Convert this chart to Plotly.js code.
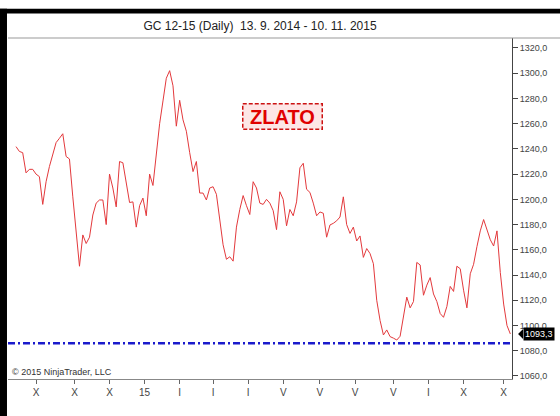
<!DOCTYPE html>
<html>
<head>
<meta charset="utf-8">
<script src="https://cdn.plot.ly/plotly-3.0.1.min.js"></script>
<style>
  html, body { margin: 0; padding: 0; background: #ffffff; }
  #chart { width: 560px; height: 416px; }
</style>
</head>
<body>
<div id="chart"></div>
<script>
// Daily closes of GC 12-15, sampled every 2 trading bars (13.9.2014 - 10.11.2015)
const closes = [
  1241.8, 1238, 1237, 1221, 1223.8, 1223.8, 1220, 1218, 1196, 1214,
  1226, 1236, 1245, 1248.4, 1252, 1234, 1232, 1202, 1174, 1147,
  1171.8, 1165, 1170, 1187.6, 1197, 1199.5, 1199.5, 1180, 1220, 1209,
  1194, 1230, 1229, 1213, 1197.5, 1198, 1178, 1195, 1201, 1187,
  1220, 1211, 1235, 1260, 1278, 1296, 1302, 1290, 1258, 1278.5,
  1263, 1254, 1237, 1222, 1230, 1205, 1205, 1199.5, 1209, 1210,
  1204, 1183, 1164, 1152.5, 1154.5, 1151, 1178, 1192, 1203, 1195,
  1188, 1214, 1209, 1197, 1196, 1200, 1197, 1191, 1176, 1206,
  1200, 1179, 1192, 1187, 1198, 1225, 1228.6, 1208, 1205.5, 1197,
  1187, 1190, 1189, 1170, 1179.7, 1181, 1183, 1186, 1202, 1180,
  1173, 1178, 1167, 1171, 1154, 1161, 1157, 1149, 1120, 1104,
  1092.5, 1096.5, 1091.2, 1090, 1088.5, 1091.5, 1106, 1122.5, 1114, 1119,
  1150, 1148, 1124, 1132, 1138, 1125, 1119, 1109.5, 1106.5, 1115,
  1131, 1127, 1147, 1145, 1128, 1114, 1141, 1148.5, 1162.5, 1175,
  1184, 1176, 1168, 1163, 1175, 1142, 1117, 1100, 1093.3
];
const barStep = 2;

// Month ticks (bar index of first trading day of month) and their labels
const monthTickBars = [12, 35, 56, 77, 98, 118, 139, 160, 182, 203, 226, 247, 268, 292];
const monthTickLabels = ['X', 'X', 'X', '15', 'I', 'I', 'I', 'V', 'V', 'V', 'V', 'I', 'X', 'X'];

// Price axis ticks
const priceTicks = [1060, 1080, 1100, 1120, 1140, 1160, 1180, 1200, 1220, 1240, 1260, 1280, 1300, 1320];
const priceTickLabels = priceTicks.map(v => v.toFixed(1).replace('.', ','));

const supportLevel = 1086;
const lastPrice = closes[closes.length - 1];
const lastPriceLabel = lastPrice.toFixed(1).replace('.', ',');

const titleText = 'GC 12-15 (Daily)  13. 9. 2014 - 10. 11. 2015';
const markText = 'ZLATO';
const copyrightText = '\u00A9 2015 NinjaTrader, LLC';

const xs = closes.map((_, i) => i * barStep);

const trace = {
  x: xs,
  y: closes,
  type: 'scatter',
  mode: 'lines',
  line: { color: '#e3393c', width: 1 },
  hoverinfo: 'skip'
};

const layout = {
  width: 560,
  height: 416,
  margin: { l: 8, r: 48, t: 38, b: 37, pad: 0 },
  paper_bgcolor: '#ffffff',
  plot_bgcolor: '#ffffff',
  showlegend: false,
  font: { family: 'Arial, "Liberation Sans", sans-serif', color: '#333333', size: 9 },
  title: {
    text: titleText,
    font: { family: 'Arial, "Liberation Sans", sans-serif', size: 12, color: '#222222' },
    xref: 'paper', x: 0.5, xanchor: 'center',
    yref: 'container', y: 1 - 26 / 416, yanchor: 'middle'
  },
  xaxis: {
    range: [-4.8, 297],
    tickmode: 'array',
    tickvals: monthTickBars,
    ticktext: monthTickLabels,
    ticks: 'outside',
    ticklen: 4,
    tickcolor: '#666666',
    tickfont: { size: 10, color: '#444444' },
    showgrid: false,
    zeroline: false,
    showline: true,
    linecolor: '#888888',
    linewidth: 1,
    fixedrange: true
  },
  yaxis: {
    side: 'right',
    range: [1057.6, 1327.9],
    tickmode: 'array',
    tickvals: priceTicks,
    ticktext: priceTickLabels,
    ticks: 'outside',
    ticklen: 5,
    tickcolor: '#444444',
    tickfont: { size: 9, color: '#444444' },
    showgrid: false,
    zeroline: false,
    showline: true,
    linecolor: '#444444',
    linewidth: 1,
    fixedrange: true
  },
  shapes: [
    // support level
    { type: 'line', xref: 'paper', yref: 'y', x0: 0, x1: 1, y0: supportLevel, y1: supportLevel,
      line: { color: '#1a1acc', width: 2.5, dash: '7px,3px,2px,3px' } },
    // title separator
    { type: 'line', xref: 'paper', yref: 'paper', x0: 0, x1: 1.1, y0: 1, y1: 1,
      line: { color: '#999999', width: 1 } },
    // black frame top
    { type: 'rect', xref: 'paper', yref: 'paper', x0: -0.02, x1: 1.1, y0: 1.072, y1: 1.086,
      fillcolor: '#000000', line: { width: 0 } },
    // black frame left
    { type: 'rect', xref: 'paper', yref: 'paper', x0: -0.02, x1: -0.002, y0: -0.12, y1: 1.086,
      fillcolor: '#000000', line: { width: 0 } },
    // last price arrow
    { type: 'path', xref: 'paper', yref: 'y',
      path: 'M 1.012 ' + lastPrice + ' L 1.022 ' + (lastPrice + 4) + ' L 1.022 ' + (lastPrice - 4) + ' Z',
      fillcolor: '#000000', line: { width: 0 } }
  ],
  annotations: [
    {
      text: '<b>&nbsp;' + markText + '&nbsp;</b>',
      xref: 'paper', yref: 'paper', x: 0.5437, y: 0.771,
      xanchor: 'center', yanchor: 'middle', showarrow: false,
      font: { family: 'Arial, "Liberation Sans", sans-serif', size: 20, color: '#e00000' },
      bgcolor: '#fde6e6', bordercolor: '#cc1111', borderwidth: 1.5, borderpad: 1
    },
    {
      text: copyrightText,
      xref: 'paper', yref: 'paper', x: 0.004, y: 0.02,
      xanchor: 'left', yanchor: 'middle', showarrow: false,
      font: { family: 'Arial, "Liberation Sans", sans-serif', size: 9, color: '#333333' }
    },
    {
      text: lastPriceLabel,
      xref: 'paper', yref: 'y', x: 1.022, y: lastPrice,
      xanchor: 'left', yanchor: 'middle', showarrow: false,
      font: { family: 'Arial, "Liberation Sans", sans-serif', size: 9, color: '#ffffff' },
      bgcolor: '#000000', borderpad: 1
    }
  ]
};

Plotly.newPlot('chart', [trace], layout, { displayModeBar: false, staticPlot: true }).then(() => {
  // make ZLATO border dashed
  document.querySelectorAll('.annotation-text-g rect.bg').forEach((r, i) => {
    if (i === 0) r.style.strokeDasharray = '4,2';
  });
});
</script>
</body>
</html>
